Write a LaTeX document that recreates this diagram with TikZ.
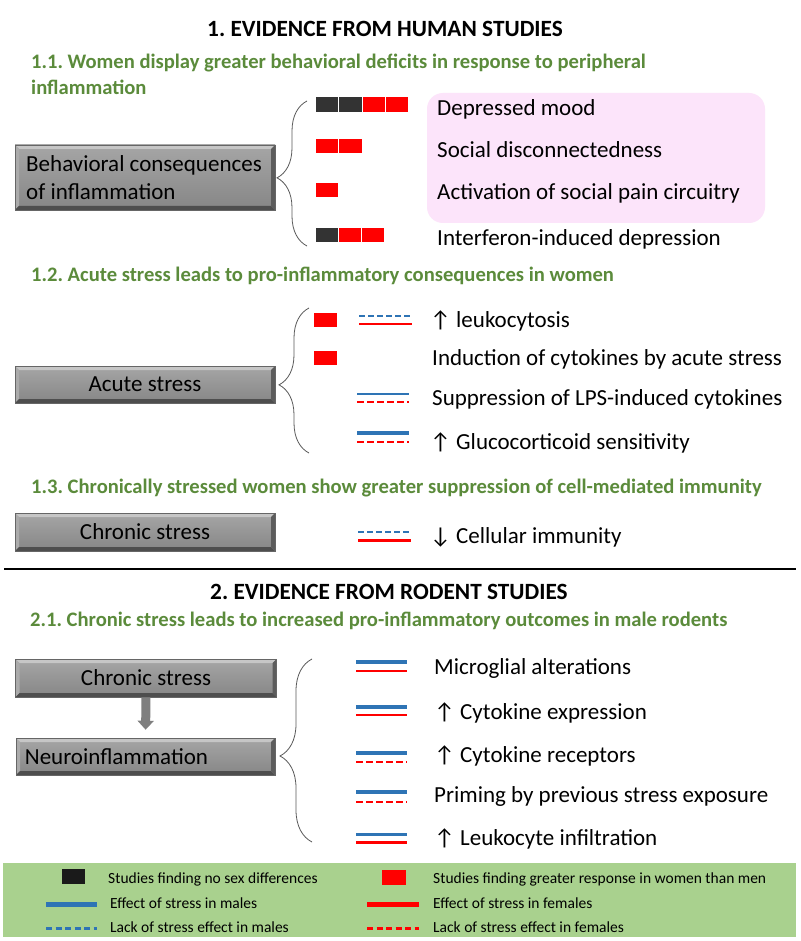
\documentclass[tikz,border=0pt]{standalone}
\usepackage{fontspec}
\setmainfont{Carlito}
\usetikzlibrary{decorations.pathreplacing,arrows.meta,calc}
\frenchspacing
\definecolor{hgreen}{HTML}{5B8B3B}
\definecolor{mblue}{HTML}{2E74B5}
\definecolor{fred}{HTML}{FF0000}
\definecolor{dsq}{HTML}{333333}
\definecolor{lsq}{HTML}{1A1A1A}
\definecolor{pinkbg}{HTML}{FCE4FA}
\definecolor{leggreen}{HTML}{A9D18E}
\definecolor{boxedge}{HTML}{666666}
\definecolor{bevlight}{HTML}{C6C6C6}
\definecolor{bevleft}{HTML}{ABABAB}
\definecolor{bevdark}{HTML}{4E4E4E}
\definecolor{bevright}{HTML}{5C5C5C}
\definecolor{bracec}{HTML}{595959}
\definecolor{arrgray}{HTML}{7F7F7F}
\tikzset{
  graybox/.style={rectangle, inner sep=0pt, draw=boxedge, line width=0.6pt,
    top color=gray!70!white, bottom color=gray!105!black,
    font=\fontsize{23}{28}\selectfont,
    path picture={
      \coordinate (NW) at (path picture bounding box.north west);
      \coordinate (NE) at (path picture bounding box.north east);
      \coordinate (SW) at (path picture bounding box.south west);
      \coordinate (SE) at (path picture bounding box.south east);
      \fill[bevlight] (NW) -- (NE) -- ([shift={(-4pt,-4pt)}]NE) -- ([shift={(4pt,-4pt)}]NW) -- cycle;
      \fill[bevleft] (NW) -- ([shift={(4pt,-4pt)}]NW) -- ([shift={(4pt,4pt)}]SW) -- (SW) -- cycle;
      \fill[bevdark] (SW) -- (SE) -- ([shift={(-4pt,4pt)}]SE) -- ([shift={(4pt,4pt)}]SW) -- cycle;
      \fill[bevright] (NE) -- (SE) -- ([shift={(-4pt,4pt)}]SE) -- ([shift={(-4pt,-4pt)}]NE) -- cycle;
    }},
  body/.style={inner sep=0pt, anchor=west, text height=20pt, text depth=5pt,
    font=\fontsize{23}{28}\selectfont},
  headg/.style={inner sep=0pt, anchor=west, text height=17.8pt, text depth=4.6pt,
    font=\fontsize{20.6}{25}\selectfont\bfseries, text=hgreen},
  ttl/.style={inner sep=0pt, anchor=west, text height=20pt, text depth=5pt,
    font=\fontsize{23.3}{28}\selectfont\bfseries},
  leg/.style={inner sep=0pt, anchor=west, text height=13pt, text depth=3pt,
    font=\fontsize{15.5}{18}\selectfont},
  bracestyle/.style={draw=bracec, line width=0.8pt,
    decorate, decoration={brace, amplitude=30pt, aspect=0.47}},
  msolid/.style={draw=mblue, line width=3.5pt},
  mthin/.style={draw=mblue, line width=2.5pt},
  mdash/.style={draw=mblue, line width=2.5pt, dash pattern=on 6pt off 3pt},
  fsolid/.style={draw=fred, line width=2.5pt},
  fdash/.style={draw=fred, line width=2.5pt, dash pattern=on 6.5pt off 3.5pt},
  blockarrow/.style={draw=arrgray, line width=9pt, shorten >=8pt,
    -{Triangle[width=16pt, length=9pt]}},
}
\begin{document}
\begin{tikzpicture}[x=1pt,y=-1pt]
\useasboundingbox (0,0) rectangle (800,941);
\fill[white] (0,0) rectangle (800,941);

% ---------- Titles and headings ----------
\node[ttl] (t1) at (207,29) {1. EVIDENCE FROM HUMAN STUDIES};
\node[headg] (h11a) at (31,62) {1.1. Women display greater behavioral deficits in response to peripheral};
\node[headg] (h11b) at (31,88) {inflammation};

% ---------- 1.1 ----------
\node[graybox, minimum width=260pt, minimum height=65pt] (b1) at (145,177.5) {};
\node[inner sep=0pt, align=left, font=\fontsize{23}{28}\selectfont] (b1t) at ([xshift=-1pt]b1.center) {Behavioral consequences\\of inflammation};

\coordinate (br1s) at (307,246);
\coordinate (br1e) at (307,101);
\draw[bracestyle] (br1s) -- (br1e);

\fill[dsq] (316,97) rectangle (338,112);
\fill[dsq] (339,97) rectangle (362,112);
\fill[fred] (363,97) rectangle (385,112);
\fill[fred] (386,97) rectangle (408,112);
\fill[fred] (316,139) rectangle (338,153);
\fill[fred] (339,139) rectangle (362,153);
\fill[fred] (316,183) rectangle (338,197);
\fill[dsq] (316,228) rectangle (338,242);
\fill[fred] (339,228) rectangle (361,242);
\fill[fred] (362,228) rectangle (384,242);

\fill[pinkbg, rounded corners=16pt] (427,93) rectangle (765,223);
\node[body] (i1) at (437,108) {Depressed mood};
\node[body] (i2) at (437,150) {Social disconnectedness};
\node[body] (i3) at (437,192) {Activation of social pain circuitry};
\node[body] (i4) at (437,238) {Interferon-induced depression};

% ---------- 1.2 ----------
\node[headg] (h12) at (31,275) {1.2. Acute stress leads to pro-inflammatory consequences in women};
\node[graybox, minimum width=260pt, minimum height=37pt] (b2) at (145,384.5) {Acute stress};

\coordinate (br2s) at (309,453);
\coordinate (br2e) at (309,308);
\draw[bracestyle] (br2s) -- (br2e);

\fill[fred] (314,313) rectangle (337,327);
\fill[fred] (314,351) rectangle (337,365);

\draw[mdash] (359,316) -- (412,316);
\draw[fsolid] (359,324) -- (412,324);
\draw[mthin] (357,394) -- (409,394);
\draw[fdash] (357,402) -- (409,402);
\draw[msolid, line width=4pt] (357,433) -- (409,433);
\draw[fdash] (357,442) -- (409,442);

\node[body] (j1) at (430,320) {↑ leukocytosis};
\node[body] (j2) at (432,358) {Induction of cytokines by acute stress};
\node[body] (j3) at (432,398) {Suppression of LPS-induced cytokines};
\node[body] (j4) at (430,442) {↑ Glucocorticoid sensitivity};

% ---------- 1.3 ----------
\node[headg] (h13) at (31,487) {1.3. Chronically stressed women show greater suppression of cell-mediated immunity};
\node[graybox, minimum width=260pt, minimum height=38pt] (b3) at (145,532) {Chronic stress};
\draw[mdash] (358,532) -- (411,532);
\draw[fsolid, line width=3pt] (358,540) -- (411,540);
\node[body] (k1) at (430,536) {↓ Cellular immunity};

% ---------- separator ----------
\draw[line width=1.2pt] (4,569) -- (796,569);

% ---------- 2 ----------
\node[ttl] (t2) at (210,592) {2. EVIDENCE FROM RODENT STUDIES};
\node[headg] (h21) at (30,620) {2.1. Chronic stress leads to increased pro-inflammatory outcomes in male rodents};

\node[graybox, minimum width=261pt, minimum height=38pt] (cs2) at (146,678) {Chronic stress};
\node[graybox, minimum width=259pt, minimum height=37pt] (ni) at (145.5,756.5) {};
\node[inner sep=0pt, anchor=west, font=\fontsize{23}{28}\selectfont] (nit) at ([xshift=9pt]ni.west) {Neuroinflammation};
\draw[blockarrow] (cs2.south) -- (ni.north);

\coordinate (br3s) at (312,842);
\coordinate (br3e) at (312,659);
\draw[bracestyle, decoration={brace, amplitude=32pt, aspect=0.47}] (br3s) -- (br3e);

\draw[msolid, line width=4pt] (356,662) -- (407,662);
\draw[fsolid] (356,671) -- (407,671);
\draw[msolid, line width=4pt] (356,707) -- (407,707);
\draw[fsolid] (356,715) -- (407,715);
\draw[msolid] (356,753) -- (407,753);
\draw[fdash] (356,762) -- (407,762);
\draw[msolid, line width=4pt] (356,792) -- (407,792);
\draw[fdash] (356,802) -- (407,802);
\draw[mthin, line width=3pt] (356,834) -- (407,834);
\draw[fsolid, line width=3pt] (356,842) -- (407,842);

\node[body] (m1) at (434,667) {Microglial alterations};
\node[body] (m2) at (434,712) {↑ Cytokine expression};
\node[body] (m3) at (434,755) {↑ Cytokine receptors};
\node[body] (m4) at (434,795) {Priming by previous stress exposure};
\node[body] (m5) at (434,838) {↑ Leukocyte infiltration};

% ---------- legend ----------
\fill[leggreen] (3,863) rectangle (796,937);
\fill[lsq] (62,869) rectangle (85,884);
\fill[fred] (382,870) rectangle (406,885);
\draw[mblue, line width=5pt] (46,904) -- (97,904);
\draw[fred, line width=5pt] (367,904) -- (419,904);
\draw[mblue, line width=3pt, dash pattern=on 6pt off 3.5pt] (46,928) -- (97,928);
\draw[fred, line width=3pt, dash pattern=on 6pt off 3.5pt] (367,928) -- (419,928);

\node[leg] (l1) at (108,878) {Studies finding no sex differences};
\node[leg] (l2) at (433,878) {Studies finding greater response in women than men};
\node[leg] (l3) at (110,903) {Effect of stress in males};
\node[leg] (l4) at (433,903) {Effect of stress in females};
\node[leg] (l5) at (110,927) {Lack of stress effect in males};
\node[leg] (l6) at (433,927) {Lack of stress effect in females};
\end{tikzpicture}
\end{document}
